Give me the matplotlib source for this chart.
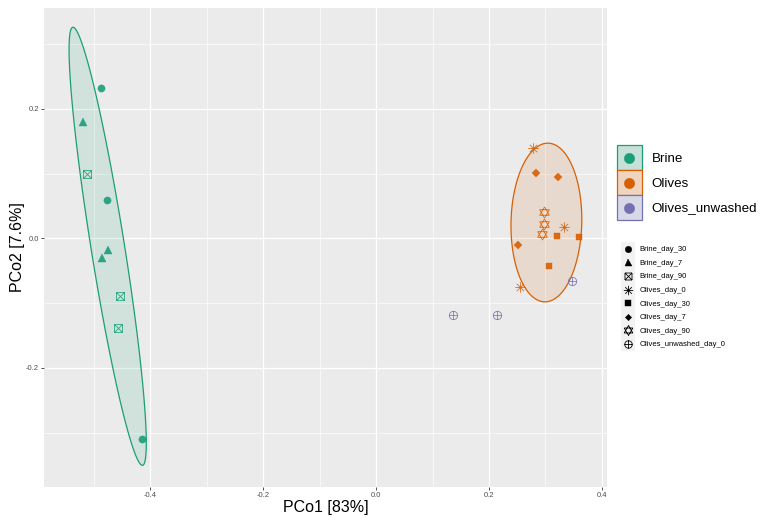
import numpy as np
import matplotlib
matplotlib.use("Agg")
import matplotlib.pyplot as plt
from matplotlib.path import Path
from matplotlib.lines import Line2D
from matplotlib.patches import Rectangle, Polygon
from matplotlib.legend_handler import HandlerBase
from matplotlib.ticker import MultipleLocator

plt.rcParams['font.family'] = ['Liberation Sans', 'DejaVu Sans']

# ---------------- data ----------------
groups = ["Brine", "Olives", "Olives_unwashed"]
group_colors = ["#1B9E77", "#D95F02", "#7570B3"]
samples = ["Brine_day_30", "Brine_day_7", "Brine_day_90", "Olives_day_0",
           "Olives_day_30", "Olives_day_7", "Olives_day_90", "Olives_unwashed_day_0"]
sample_group = ["Brine", "Brine", "Brine", "Olives",
                "Olives", "Olives", "Olives", "Olives_unwashed"]

brine_day_30_x = [-0.487, -0.476, -0.414]
brine_day_30_y = [0.232, 0.060, -0.310]
brine_day_7_x = [-0.519, -0.474, -0.485]
brine_day_7_y = [0.180, -0.018, -0.030]
brine_day_90_x = [-0.512, -0.453, -0.457]
brine_day_90_y = [0.100, -0.089, -0.138]
olives_day_0_x = [0.278, 0.333, 0.255]
olives_day_0_y = [0.139, 0.017, -0.075]
olives_day_30_x = [0.320, 0.359, 0.307]
olives_day_30_y = [0.004, 0.002, -0.042]
olives_day_7_x = [0.284, 0.322, 0.251]
olives_day_7_y = [0.101, 0.095, -0.010]
olives_day_90_x = [0.297, 0.297, 0.294]
olives_day_90_y = [0.041, 0.023, 0.007]
unwashed_day_0_x = [0.347, 0.136, 0.214]
unwashed_day_0_y = [-0.066, -0.119, -0.119]

sample_x = [brine_day_30_x, brine_day_7_x, brine_day_90_x, olives_day_0_x,
            olives_day_30_x, olives_day_7_x, olives_day_90_x, unwashed_day_0_x]
sample_y = [brine_day_30_y, brine_day_7_y, brine_day_90_y, olives_day_0_y,
            olives_day_30_y, olives_day_7_y, olives_day_90_y, unwashed_day_0_y]

xlabel = "PCo1 [83%]"
ylabel = "PCo2 [7.6%]"
xticks = [-0.4, -0.2, 0.0, 0.2, 0.4]
yticks = [-0.2, 0.0, 0.2]
ellipse_level = 0.9

# ---------------- markers ----------------
def lines_path(segs):
    verts, codes = [], []
    for a, b in segs:
        verts += [a, b]
        codes += [Path.MOVETO, Path.LINETO]
    return Path(verts, codes)

sq = [(-1, -1), (1, -1), (1, 1), (-1, 1)]
square_cross = lines_path([(sq[i], sq[(i + 1) % 4]) for i in range(4)] +
                          [((-1, -1), (1, 1)), ((-1, 1), (1, -1))])
d = 0.7071
asterisk = lines_path([((-1, 0), (1, 0)), ((0, -1), (0, 1)),
                       ((-d, -d), (d, d)), ((-d, d), (d, -d))])
tu = [(0, 1), (-0.866, -0.5), (0.866, -0.5)]
td = [(0, -1), (-0.866, 0.5), (0.866, 0.5)]
star_david = lines_path([(tu[i], tu[(i + 1) % 3]) for i in range(3)] +
                        [(td[i], td[(i + 1) % 3]) for i in range(3)])
circ = Path.unit_circle()
circle_plus = Path.make_compound_path(circ, lines_path([((-1, 0), (1, 0)), ((0, -1), (0, 1))]))

# (marker, filled, size)
sample_markers = [("o", True, 5.2), ("^", True, 5.6), (square_cross, False, 5.6),
                  (asterisk, False, 7.5), ("s", True, 4.8), ("D", True, 3.6),
                  (star_david, False, 8.0), (circle_plus, False, 6.0)]

# ---------------- ellipse (ggplot stat_ellipse, type = "t") ----------------
def cov_trob(x, nu=5, maxit=25, tol=0.01):
    n, p = x.shape
    wt = np.ones(n)
    loc = x.mean(axis=0)
    w = np.sqrt(wt)
    for _ in range(maxit):
        w0 = w
        X = x - loc
        _, s, vt = np.linalg.svd(np.sqrt(w / w.sum())[:, None] * X, full_matrices=False)
        wX = X @ vt.T @ np.diag(1 / s)
        Q = (wX ** 2).sum(axis=1)
        w = (wt * (nu + p)) / (nu + Q)
        loc = (w[:, None] * x).sum(axis=0) / w.sum()
        if np.all(np.abs(w - w0) < tol):
            break
    cov = (np.sqrt(w)[:, None] * X).T @ (np.sqrt(w)[:, None] * X) / wt.sum()
    return cov, loc

def ellipse_pts(xs, ys, level, seg=200):
    data = np.column_stack([xs, ys])
    cov, center = cov_trob(data)
    dfd = len(xs) - 1
    q = dfd / 2 * ((1 - level) ** (-2 / dfd) - 1)  # qf(level, 2, dfd)
    radius = np.sqrt(2 * q)
    ch = np.linalg.cholesky(cov).T
    ang = np.linspace(0, 2 * np.pi, seg, endpoint=False)
    uc = np.column_stack([np.cos(ang), np.sin(ang)])
    return center + radius * (uc @ ch)

# ---------------- figure ----------------
W, H = 763, 522
fig = plt.figure(figsize=(W / 100, H / 100), dpi=100)
L, R, T, B = 44, 607, 8, 487
ax = fig.add_axes([L / W, 1 - B / H, (R - L) / W, (B - T) / H])
ax.set_facecolor("#EBEBEB")
for s in ax.spines.values():
    s.set_visible(False)
ax.set_xlim(-0.588, 0.409)
ax.set_ylim(-0.384, 0.356)
ax.set_xticks(xticks)
ax.set_yticks(yticks)
ax.set_xticklabels([f"{v:.1f}" for v in xticks])
ax.set_yticklabels([f"{v:.1f}" for v in yticks])
ax.xaxis.set_minor_locator(MultipleLocator(0.1))
ax.yaxis.set_minor_locator(MultipleLocator(0.1))
ax.grid(which="major", color="white", lw=0.9)
ax.grid(which="minor", color="white", lw=0.45)
ax.set_axisbelow(True)
ax.tick_params(which="major", length=2.2, width=0.6, color="#333333",
               labelsize=5.5, labelcolor="#4D4D4D", pad=1.5)
ax.tick_params(which="minor", length=0)
ax.set_xlabel(xlabel, fontsize=11.5, labelpad=0.5)
ax.set_ylabel(ylabel, fontsize=11.5, labelpad=0.5)

# ellipses
for g, c in zip(groups, group_colors):
    xs = sum([sample_x[i] for i in range(len(samples)) if sample_group[i] == g], [])
    ys = sum([sample_y[i] for i in range(len(samples)) if sample_group[i] == g], [])
    if len(xs) > 3:
        e = ellipse_pts(np.array(xs), np.array(ys), ellipse_level)
        ax.add_patch(Polygon(e, closed=True, facecolor=matplotlib.colors.to_rgba(c, 0.12),
                             edgecolor=c, lw=0.9, zorder=2))

# points
for i, smp in enumerate(samples):
    c = group_colors[groups.index(sample_group[i])]
    m, filled, ms = sample_markers[i]
    if filled:
        ax.plot(sample_x[i], sample_y[i], ls="none", marker=m, ms=ms, mfc=c, mec=c,
                mew=0.3, alpha=0.9, zorder=4)
    else:
        ax.plot(sample_x[i], sample_y[i], ls="none", marker=m, ms=ms, mfc="none", mec=c,
                mew=0.6, alpha=0.9, zorder=4)

# ---------------- legends ----------------
class KeyHandler(HandlerBase):
    def __init__(self, fc, ec, lw, marker, ms, mfc, mec, mew):
        super().__init__()
        self.kw = (fc, ec, lw, marker, ms, mfc, mec, mew)

    def create_artists(self, legend, orig_handle, xdescent, ydescent, width, height,
                       fontsize, trans):
        fc, ec, lw, marker, ms, mfc, mec, mew = self.kw
        r = Rectangle((-xdescent, -ydescent), width, height, facecolor=fc,
                      edgecolor=ec, lw=lw, transform=trans)
        ln = Line2D([-xdescent + width / 2], [-ydescent + height / 2], ls="none",
                    marker=marker, ms=ms, mfc=mfc, mec=mec, mew=mew, transform=trans)
        return [r, ln]

def blend(c, a=0.2, bg=(0.949, 0.949, 0.949)):
    rgb = matplotlib.colors.to_rgb(c)
    return tuple(a * rgb[k] + (1 - a) * bg[k] for k in range(3))

h1, hm1 = [], {}
for c in group_colors:
    r = Rectangle((0, 0), 1, 1)
    h1.append(r)
    hm1[r] = KeyHandler(blend(c), c, 0.9, "o", 7.5, c, c, 0.3)
fig.legend(h1, groups, loc="upper left", bbox_to_anchor=(617 / W, 1 - 145 / H),
           frameon=False, fontsize=9.6, handlelength=1.85, handleheight=2.508,
           labelspacing=0.0, handletextpad=0.75, borderpad=0, borderaxespad=0,
           handler_map=hm1)

h2, hm2 = [], {}
for i in range(len(samples)):
    m, filled, ms = sample_markers[i]
    r = Rectangle((0, 0), 1, 1)
    h2.append(r)
    if filled:
        hm2[r] = KeyHandler("#F2F2F2", "none", 0, m, ms * 0.9, "black", "black", 0.3)
    else:
        hm2[r] = KeyHandler("#F2F2F2", "none", 0, m, ms * 0.9, "none", "black", 0.6)
fig.legend(h2, samples, loc="upper left", bbox_to_anchor=(621 / W, 1 - 242 / H),
           frameon=False, fontsize=5.5, handlelength=1.85, handleheight=2.364,
           labelspacing=0.0, handletextpad=0.6, borderpad=0, borderaxespad=0,
           handler_map=hm2)

fig.savefig("out.png", dpi=100)
